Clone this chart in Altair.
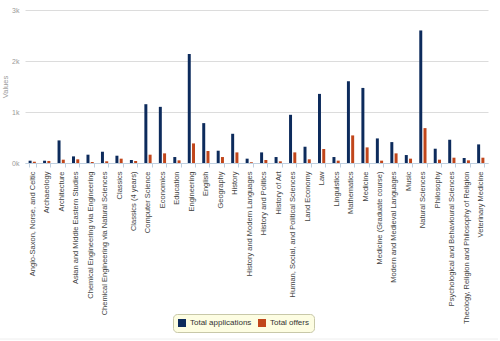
import altair as alt
import pandas as pd

subjects = [
    "Anglo-Saxon, Norse, and Celtic",
    "Archaeology",
    "Architecture",
    "Asian and Middle Eastern Studies",
    "Chemical Engineering via Engineering",
    "Chemical Engineering via Natural Sciences",
    "Classics",
    "Classics (4 years)",
    "Computer Science",
    "Economics",
    "Education",
    "Engineering",
    "English",
    "Geography",
    "History",
    "History and Modern Languages",
    "History and Politics",
    "History of Art",
    "Human, Social, and Political Sciences",
    "Land Economy",
    "Law",
    "Linguistics",
    "Mathematics",
    "Medicine",
    "Medicine (Graduate course)",
    "Modern and Medieval Languages",
    "Music",
    "Natural Sciences",
    "Philosophy",
    "Psychological and Behavioural Sciences",
    "Theology, Religion and Philosophy of Religion",
    "Veterinary Medicine",
]

applications = [45, 45, 443, 130, 163, 221, 143, 59, 1153, 1101, 117, 2137,
                782, 241, 573, 85, 208, 117, 945, 319, 1355, 117, 1603, 1472,
                482, 410, 156, 2599, 280, 456, 98, 365]
offers = [25, 40, 65, 72, 20, 33, 85, 39, 163, 189, 52, 384,
          235, 117, 208, 15, 59, 33, 208, 72, 274, 46, 541, 306,
          46, 189, 85, 684, 65, 104, 52, 104]

series_names = ["Total applications", "Total offers"]
series_colors = ["#0d2b5c", "#c1461b"]

rows = []
for s, a, o in zip(subjects, applications, offers):
    rows.append({"subject": s, "series": series_names[0], "value": a})
    rows.append({"subject": s, "series": series_names[1], "value": o})
df = pd.DataFrame(rows)

W, H = 463, 153

bars = alt.Chart(df).mark_bar().encode(
    x=alt.X(
        "subject:N",
        sort=subjects,
        scale=alt.Scale(paddingInner=0.5, paddingOuter=0.25),
        axis=alt.Axis(
            title=None,
            labelAngle=-90,
            labelFont="Liberation Sans",
            labelFontSize=7.5,
            labelColor="#444444",
            labelPadding=4,
            labelLimit=300,
            tickBand="extent",
            tickColor="#c0d0e0",
            tickSize=4,
            domainColor="#c0d0e0",
            grid=False,
        ),
    ),
    xOffset=alt.XOffset(
        "series:N",
        sort=series_names,
        scale=alt.Scale(paddingInner=0.3, paddingOuter=0),
    ),
    y=alt.Y(
        "value:Q",
        scale=alt.Scale(domain=[0, 3000]),
        axis=alt.Axis(
            title="Values",
            titleFont="Liberation Sans",
            titleFontSize=7.5,
            titleFontWeight="normal",
            titleColor="#9a9a9a",
            titlePadding=2,
            values=[0, 1000, 2000, 3000],
            labelExpr="datum.value / 1000 + 'k'",
            labelFont="Liberation Sans",
            labelFontSize=7,
            labelColor="#9a9a9a",
            labelPadding=6,
            domain=False,
            ticks=False,
            gridColor="#dcdcdc",
        ),
    ),
    color=alt.Color(
        "series:N",
        sort=series_names,
        scale=alt.Scale(domain=series_names, range=series_colors),
        legend=alt.Legend(
            title=None,
            orient="none",
            direction="horizontal",
            legendX=148,
            legendY=304,
            symbolType="square",
            symbolSize=64,
            symbolStrokeWidth=0,
            labelFont="Liberation Sans",
            labelFontSize=8,
            labelColor="#333333",
            labelOffset=4,
            columnPadding=6,
            padding=5,
            fillColor="#fdfde2",
            strokeColor="#c8c8a8",
            cornerRadius=4,
        ),
    ),
)

border = alt.Chart(pd.DataFrame({"v": [0]})).mark_rule(
    color="#eeeeee", strokeWidth=1, clip=False
).encode(
    x=alt.value(-25), x2=alt.value(W + 10), y=alt.value(329)
)

chart = alt.layer(bars, border).properties(
    width=W,
    height=H,
    autosize=alt.AutoSizeParams(type="none"),
    padding={"left": 25, "top": 10, "right": 12, "bottom": 178},
    background="white",
).configure_view(stroke=None)

chart.save("out.html", embed_options={"renderer": "svg", "actions": False})
